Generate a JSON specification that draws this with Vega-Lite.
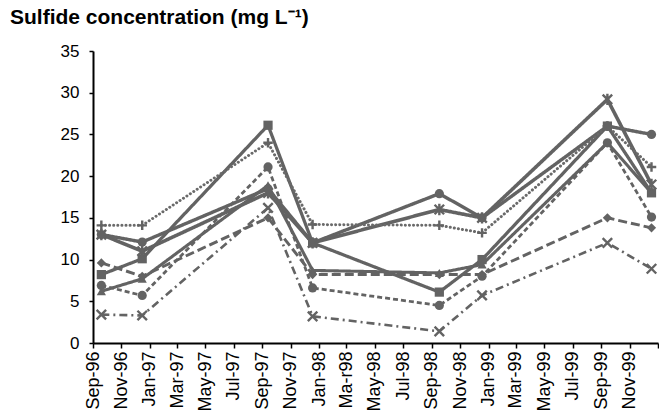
{
  "$schema": "https://vega.github.io/schema/vega-lite/v6.json",
  "width": 565,
  "height": 292,
  "autosize": "none",
  "padding": {"left": 93, "top": 51, "right": 1, "bottom": 75},
  "background": "white",
  "config": {
    "view": {"stroke": null},
    "font": "Liberation Sans",
    "axis": {
      "domainColor": "black",
      "domainWidth": 2,
      "tickColor": "black",
      "tickWidth": 1.5,
      "tickSize": 5,
      "labelColor": "black",
      "labelFontSize": 17,
      "labelFont": "Liberation Sans",
      "grid": false,
      "title": null
    }
  },
  "title": {
    "text": "Sulfide concentration (mg L⁻¹)",
    "anchor": "start",
    "frame": "group",
    "dx": -83,
    "offset": 14,
    "fontSize": 21,
    "fontWeight": "bold",
    "font": "Liberation Sans",
    "color": "black"
  },
  "data": {
    "format": {"parse": {"date": "utc:'%Y-%m-%d'"}},
    "values": [
      {"series": "plus", "date": "1996-09-19", "v": 14.1},
      {"series": "plus", "date": "1996-12-16", "v": 14.1},
      {"series": "plus", "date": "1997-09-13", "v": 24},
      {"series": "plus", "date": "1997-12-18", "v": 14.2},
      {"series": "plus", "date": "1998-09-17", "v": 14.1},
      {"series": "plus", "date": "1998-12-18", "v": 13.2},
      {"series": "plus", "date": "1999-09-14", "v": 26},
      {"series": "plus", "date": "1999-12-18", "v": 21.1},
      {"series": "star", "date": "1996-09-19", "v": 13},
      {"series": "star", "date": "1996-12-16", "v": 11},
      {"series": "star", "date": "1997-09-13", "v": 18},
      {"series": "star", "date": "1997-12-18", "v": 12},
      {"series": "star", "date": "1998-09-17", "v": 16},
      {"series": "star", "date": "1998-12-18", "v": 15},
      {"series": "star", "date": "1999-09-14", "v": 29.2},
      {"series": "star", "date": "1999-12-18", "v": 19},
      {"series": "circle", "date": "1996-09-19", "v": 13},
      {"series": "circle", "date": "1996-12-16", "v": 12.1},
      {"series": "circle", "date": "1997-09-13", "v": 18.5},
      {"series": "circle", "date": "1997-12-18", "v": 12},
      {"series": "circle", "date": "1998-09-17", "v": 17.9},
      {"series": "circle", "date": "1998-12-18", "v": 15},
      {"series": "circle", "date": "1999-09-14", "v": 26},
      {"series": "circle", "date": "1999-12-18", "v": 25},
      {"series": "square", "date": "1996-09-19", "v": 8.2},
      {"series": "square", "date": "1996-12-16", "v": 10.1},
      {"series": "square", "date": "1997-09-13", "v": 26.1},
      {"series": "square", "date": "1997-12-18", "v": 12},
      {"series": "square", "date": "1998-09-17", "v": 6.1},
      {"series": "square", "date": "1998-12-18", "v": 10},
      {"series": "square", "date": "1999-09-14", "v": 26},
      {"series": "square", "date": "1999-12-18", "v": 18},
      {"series": "triangle", "date": "1996-09-19", "v": 6.2},
      {"series": "triangle", "date": "1996-12-16", "v": 7.7},
      {"series": "triangle", "date": "1997-09-13", "v": 18.9},
      {"series": "triangle", "date": "1997-12-18", "v": 8.7},
      {"series": "triangle", "date": "1998-09-17", "v": 8.4},
      {"series": "triangle", "date": "1998-12-18", "v": 9.4},
      {"series": "triangle", "date": "1999-09-14", "v": 24},
      {"series": "triangle", "date": "1999-12-18", "v": 18},
      {"series": "diamond", "date": "1996-09-19", "v": 9.6},
      {"series": "diamond", "date": "1996-12-16", "v": 8},
      {"series": "diamond", "date": "1997-09-13", "v": 15},
      {"series": "diamond", "date": "1997-12-18", "v": 8.2},
      {"series": "diamond", "date": "1998-09-17", "v": 8.2},
      {"series": "diamond", "date": "1998-12-18", "v": 8.2},
      {"series": "diamond", "date": "1999-09-14", "v": 15},
      {"series": "diamond", "date": "1999-12-18", "v": 13.8},
      {"series": "dcircle", "date": "1996-09-19", "v": 6.9},
      {"series": "dcircle", "date": "1996-12-16", "v": 5.7},
      {"series": "dcircle", "date": "1997-09-13", "v": 21.1},
      {"series": "dcircle", "date": "1997-12-18", "v": 6.6},
      {"series": "dcircle", "date": "1998-09-17", "v": 4.5},
      {"series": "dcircle", "date": "1998-12-18", "v": 8},
      {"series": "dcircle", "date": "1999-09-14", "v": 24},
      {"series": "dcircle", "date": "1999-12-18", "v": 15.1},
      {"series": "xdash", "date": "1996-09-19", "v": 3.4},
      {"series": "xdash", "date": "1996-12-16", "v": 3.3},
      {"series": "xdash", "date": "1997-09-13", "v": 16.2},
      {"series": "xdash", "date": "1997-12-18", "v": 3.2},
      {"series": "xdash", "date": "1998-09-17", "v": 1.4},
      {"series": "xdash", "date": "1998-12-18", "v": 5.7},
      {"series": "xdash", "date": "1999-09-14", "v": 12},
      {"series": "xdash", "date": "1999-12-18", "v": 8.9}
    ]
  },
  "encoding": {
    "x": {
      "field": "date",
      "type": "temporal",
      "scale": {
        "type": "utc",
        "domain": [
          {"year": 1996, "month": 9, "date": 1, "utc": true},
          {"year": 2000, "month": 1, "date": 1, "utc": true}
        ]
      },
      "axis": {
        "tickCount": {"interval": "month", "step": 2},
        "labelAngle": -90,
        "labelPadding": 3,
        "labelFontSize": 18,
        "labelOverlap": false,
        "labelFlush": false,
        "labelExpr": "utcFormat(datum.value, '%b-%y') == 'Mar-98' ? 'Ma-r98' : (utcFormat(datum.value, '%b-%y') == 'Jan-00' ? '' : utcFormat(datum.value, '%b-%y'))"
      }
    },
    "y": {
      "field": "v",
      "type": "quantitative",
      "scale": {"domain": [0, 35], "nice": false},
      "axis": {"values": [0, 5, 10, 15, 20, 25, 30, 35], "labelPadding": 10, "tickSize": 4}
    },
    "detail": {"field": "series"}
  },
  "layer": [
    {
      "transform": [{"filter": "datum.series != 'plus'"}],
      "mark": {"type": "line", "color": "#636363"},
      "encoding": {
        "strokeDash": {
          "field": "series",
          "scale": {
            "domain": ["star", "circle", "square", "triangle", "diamond", "dcircle", "xdash"],
            "range": [[1, 0], [1, 0], [1, 0], [1, 0], [9, 4], [5, 3], [8, 4, 2, 4]]
          },
          "legend": null
        },
        "strokeWidth": {
          "field": "series",
          "scale": {
            "domain": ["star", "circle", "square", "triangle", "diamond", "dcircle", "xdash"],
            "range": [3.6, 2.6, 2.4, 2.6, 2.8, 2.6, 2.4]
          },
          "legend": null
        }
      }
    },
    {
      "transform": [{"filter": "datum.series == 'plus'"}],
      "mark": {"type": "line", "color": "#6a6a6a", "strokeWidth": 3, "strokeCap": "round", "strokeDash": [0.1, 4]},
      "encoding": {}
    },
    {
      "transform": [{"filter": {"field": "series", "oneOf": ["circle", "square", "triangle", "diamond", "dcircle"]}}],
      "mark": {"type": "point", "filled": true, "opacity": 1, "color": "#636363", "size": 85},
      "encoding": {
        "shape": {
          "field": "series",
          "scale": {
            "domain": ["plus", "star", "circle", "square", "triangle", "diamond", "dcircle", "xdash"],
            "range": ["M-1,0L1,0M0,-1L0,1", "M-1,-1L1,1M-1,1L1,-1M0,-1.2L0,1.2", "circle", "square", "triangle-up", "diamond", "circle", "M-1,-1L1,1M-1,1L1,-1"]
          },
          "legend": null
        }
      }
    },
    {
      "transform": [{"filter": {"field": "series", "oneOf": ["plus", "star", "xdash"]}}],
      "mark": {"type": "point", "filled": false, "opacity": 1, "color": "#636363", "strokeWidth": 2.4, "size": 90},
      "encoding": {
        "shape": {
          "field": "series",
          "scale": {
            "domain": ["plus", "star", "circle", "square", "triangle", "diamond", "dcircle", "xdash"],
            "range": ["M-1,0L1,0M0,-1L0,1", "M-1,-1L1,1M-1,1L1,-1M0,-1.2L0,1.2", "circle", "square", "triangle-up", "diamond", "circle", "M-1,-1L1,1M-1,1L1,-1"]
          },
          "legend": null
        }
      }
    }
  ]
}
